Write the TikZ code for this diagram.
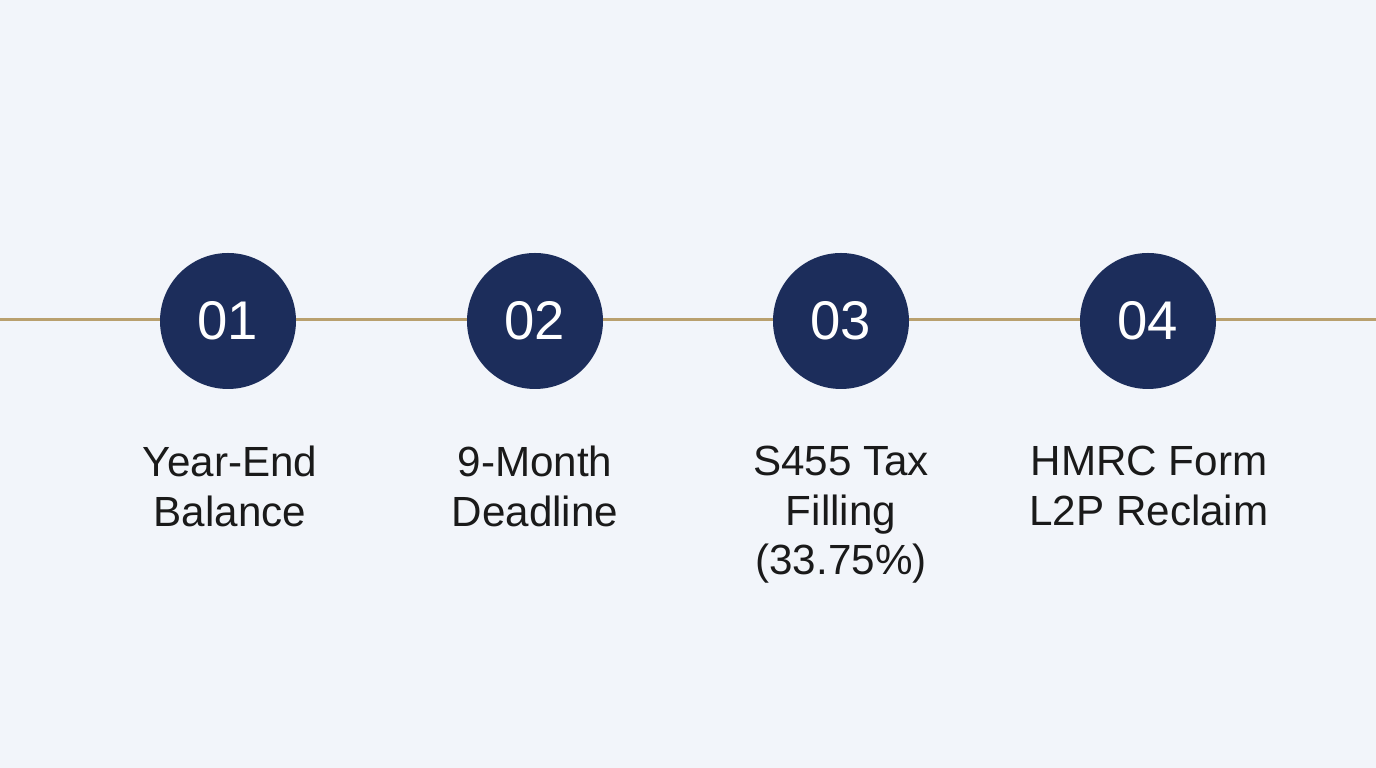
\documentclass[tikz,border=0pt]{standalone}
\usepackage{fontspec}
\setmainfont{Liberation Sans}
\definecolor{bgcol}{HTML}{F2F5FA}
\definecolor{navy}{HTML}{1C2D5B}
\definecolor{gold}{HTML}{B9A06E}
\definecolor{ink}{HTML}{1A1A1A}
\tikzset{
  stepdot/.style={circle,fill=navy,minimum size=1.36cm,inner sep=0pt,text=white,font=\fontsize{15.5}{18}\selectfont},
  steplabel/.style={anchor=north,align=center,inner sep=0pt,text=ink,font=\fontsize{12}{14.2}\selectfont}
}
\begin{document}
\begin{tikzpicture}
\fill[bgcol] (0,0) rectangle (13.76,7.68);
\useasboundingbox (0,0) rectangle (13.76,7.68);
\coordinate (left) at (0,4.48);
\coordinate (right) at (13.76,4.48);
\draw[gold,line width=0.85pt] (left) -- (right);
\node[stepdot] (s1) at (2.28,4.47) {01};
\node[stepdot] (s2) at (5.35,4.47) {02};
\node[stepdot] (s3) at (8.41,4.47) {03};
\node[stepdot] (s4) at (11.48,4.47) {04};
\node[steplabel] (l1) at (2.30,3.23) {Year-End\\Balance};
\node[steplabel] (l2) at (5.35,3.23) {9-Month\\Deadline};
\node[steplabel] (l3) at (8.41,3.23) {S455 Tax\\Filling\\(33.75\%)};
\node[steplabel] (l4) at (11.49,3.23) {HMRC Form\\L2P Reclaim};
\end{tikzpicture}
\end{document}
